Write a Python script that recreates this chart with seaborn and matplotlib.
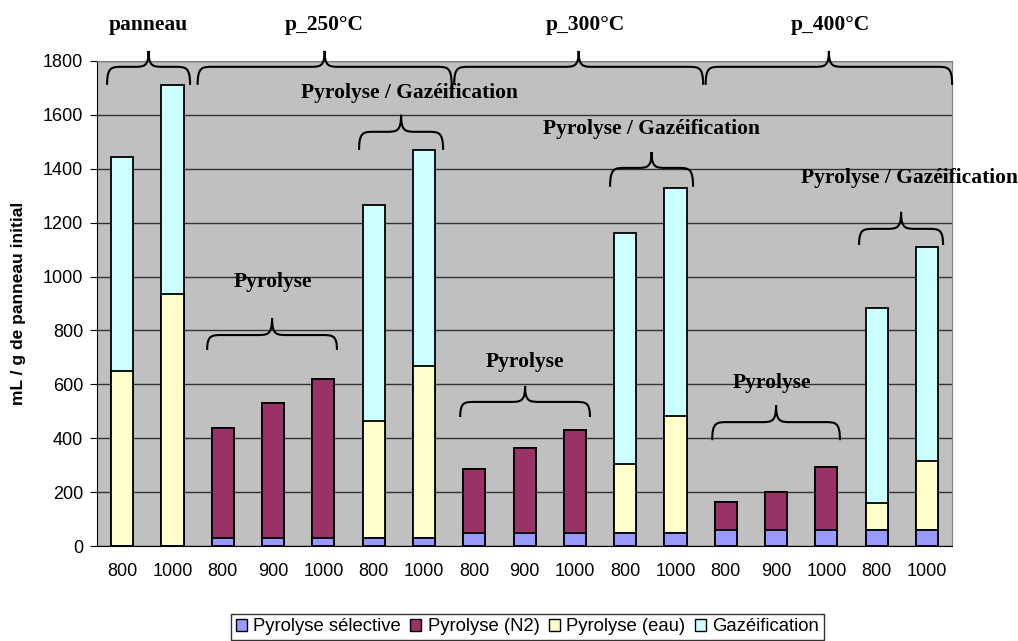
import numpy as np
import pandas as pd
import matplotlib
matplotlib.use("Agg")
import matplotlib.pyplot as plt
import seaborn as sns
from matplotlib.path import Path
from matplotlib.patches import PathPatch, Patch

# 1. Data (mL / g de panneau initial)
temps = ['800', '1000', '800', '900', '1000', '800', '1000', '800', '900', '1000',
         '800', '1000', '800', '900', '1000', '800', '1000']
pyro_selective = [0, 0, 30, 30, 30, 30, 30, 49, 49, 48, 48, 48, 60, 60, 60, 60, 60]
pyro_n2 = [0, 0, 407, 502, 590, 0, 0, 238, 315, 384, 0, 0, 102, 139, 234, 0, 0]
pyro_eau = [650, 935, 0, 0, 0, 433, 640, 0, 0, 0, 257, 433, 0, 0, 0, 101, 254]
gazeification = [795, 777, 0, 0, 0, 804, 798, 0, 0, 0, 855, 849, 0, 0, 0, 724, 796]

series = ['Pyrolyse sélective', 'Pyrolyse (N2)', 'Pyrolyse (eau)', 'Gazéification']
colors = ['#9999FF', '#993366', '#FFFFCC', '#CCFFFF']

df = pd.DataFrame({
    'pos': np.arange(len(temps)),
    'sel': pyro_selective,
    'n2': pyro_n2,
    'eau': pyro_eau,
    'gaz': gazeification,
})
# cumulative tops, drawn from the highest layer down
df['c_sel'] = df['sel']
df['c_n2'] = df['c_sel'] + df['n2']
df['c_eau'] = df['c_n2'] + df['eau']
df['c_gaz'] = df['c_eau'] + df['gaz']

# 2. Figure
sns.set_style('white')
plt.rcParams['font.family'] = ['Liberation Sans', 'DejaVu Sans']
plt.rcParams.update({'text.color': 'black', 'axes.labelcolor': 'black',
                     'xtick.color': 'black', 'ytick.color': 'black'})
fig = plt.figure(figsize=(10.18, 6.41), dpi=100)
ax = fig.add_axes([0.0953, 0.148, 0.84, 0.757])
ax.set_facecolor('#C0C0C0')

for col, c in zip(['c_gaz', 'c_eau', 'c_n2', 'c_sel'], colors[::-1]):
    sns.barplot(data=df, x='pos', y=col, color=c, width=0.44, edgecolor='black',
                linewidth=1.3, ax=ax, saturation=1, zorder=3)

ax.set_xlim(-0.5, len(temps) - 0.5)
ax.set_ylim(0, 1800)
ax.set_yticks(range(0, 1801, 200))
ax.yaxis.grid(True, color='#333333', linewidth=1, zorder=1)
ax.set_axisbelow(True)
ax.set_xticks(np.arange(len(temps)))
ax.set_xticklabels(temps, fontsize=13)
ax.set_xticks(np.arange(-0.5, len(temps), 1), minor=True)
ax.tick_params(axis='x', which='major', length=0, pad=12)
ax.tick_params(axis='x', which='minor', length=5, direction='out', color='black')
ax.tick_params(axis='y', length=5, direction='out', color='black', labelsize=13,
               left=True, pad=5)
ax.set_xlabel('')
ax.set_ylabel('mL / g de panneau initial', fontsize=12.5, fontweight='bold', labelpad=12)
for s in ['top', 'right']:
    ax.spines[s].set_color('#808080')
for s in ['left', 'bottom']:
    ax.spines[s].set_color('black')


# 3. Curly braces + annotations
def brace(x0, x1, ytip, yh, ypeak, r=0.3):
    xm = (x0 + x1) / 2
    verts = [(x0, ytip), (x0, yh), (x0 + 0.3 * r, yh), (x0 + r, yh),
             (xm - r, yh),
             (xm - 0.3 * r, yh), (xm, yh), (xm, ypeak),
             (xm, yh), (xm + 0.3 * r, yh), (xm + r, yh),
             (x1 - r, yh),
             (x1 - 0.3 * r, yh), (x1, yh), (x1, ytip)]
    codes = [Path.MOVETO, Path.CURVE4, Path.CURVE4, Path.CURVE4,
             Path.LINETO,
             Path.CURVE4, Path.CURVE4, Path.CURVE4,
             Path.CURVE4, Path.CURVE4, Path.CURVE4,
             Path.LINETO,
             Path.CURVE4, Path.CURVE4, Path.CURVE4]
    ax.add_patch(PathPatch(Path(verts, codes), fill=False, lw=1.5,
                           edgecolor='black', clip_on=False, zorder=5))


serif = dict(family=['Liberation Serif', 'DejaVu Serif'], fontweight='bold',
             ha='center', va='center', zorder=6, clip_on=False, fontsize=15.5,
             color='black')

# top groups
brace(-0.3, 1.35, 1711, 1778, 1837)
brace(1.5, 6.55, 1711, 1778, 1837)
brace(6.6, 11.55, 1711, 1778, 1837)
brace(11.6, 16.5, 1711, 1778, 1837)
ax.text(0.52, 1934, 'panneau', **serif)
ax.text(4.01, 1934, 'p_250°C', **serif)
ax.text(9.2, 1934, 'p_300°C', **serif)
ax.text(14.07, 1934, 'p_400°C', **serif)

# sub groups
brace(1.69, 4.27, 728, 783, 846)
ax.text(3.0, 980, 'Pyrolyse', **serif)
brace(4.71, 6.38, 1470, 1537, 1600)
ax.text(5.72, 1681, 'Pyrolyse / Gazéification', **serif)

brace(6.72, 9.3, 479, 535, 594)
ax.text(8.01, 683, 'Pyrolyse', **serif)
brace(9.7, 11.35, 1333, 1403, 1462)
ax.text(10.53, 1548, 'Pyrolyse / Gazéification', **serif)

brace(11.73, 14.27, 393, 460, 523)
ax.text(12.92, 605, 'Pyrolyse', **serif)
brace(14.65, 16.32, 1117, 1177, 1240)
ax.text(15.66, 1366, 'Pyrolyse / Gazéification', **serif)

# 4. Legend
handles = [Patch(facecolor=c, edgecolor='black', linewidth=1) for c in colors]
leg = fig.legend(handles, series, loc='center', bbox_to_anchor=(0.518, 0.022), ncol=4,
                 fontsize=13.3, frameon=True, fancybox=False, handlelength=0.6,
                 handleheight=0.6, handletextpad=0.35, columnspacing=0.5,
                 borderpad=0.25, edgecolor='black')
leg.get_frame().set_linewidth(1)

fig.savefig('out.png', dpi=100)
